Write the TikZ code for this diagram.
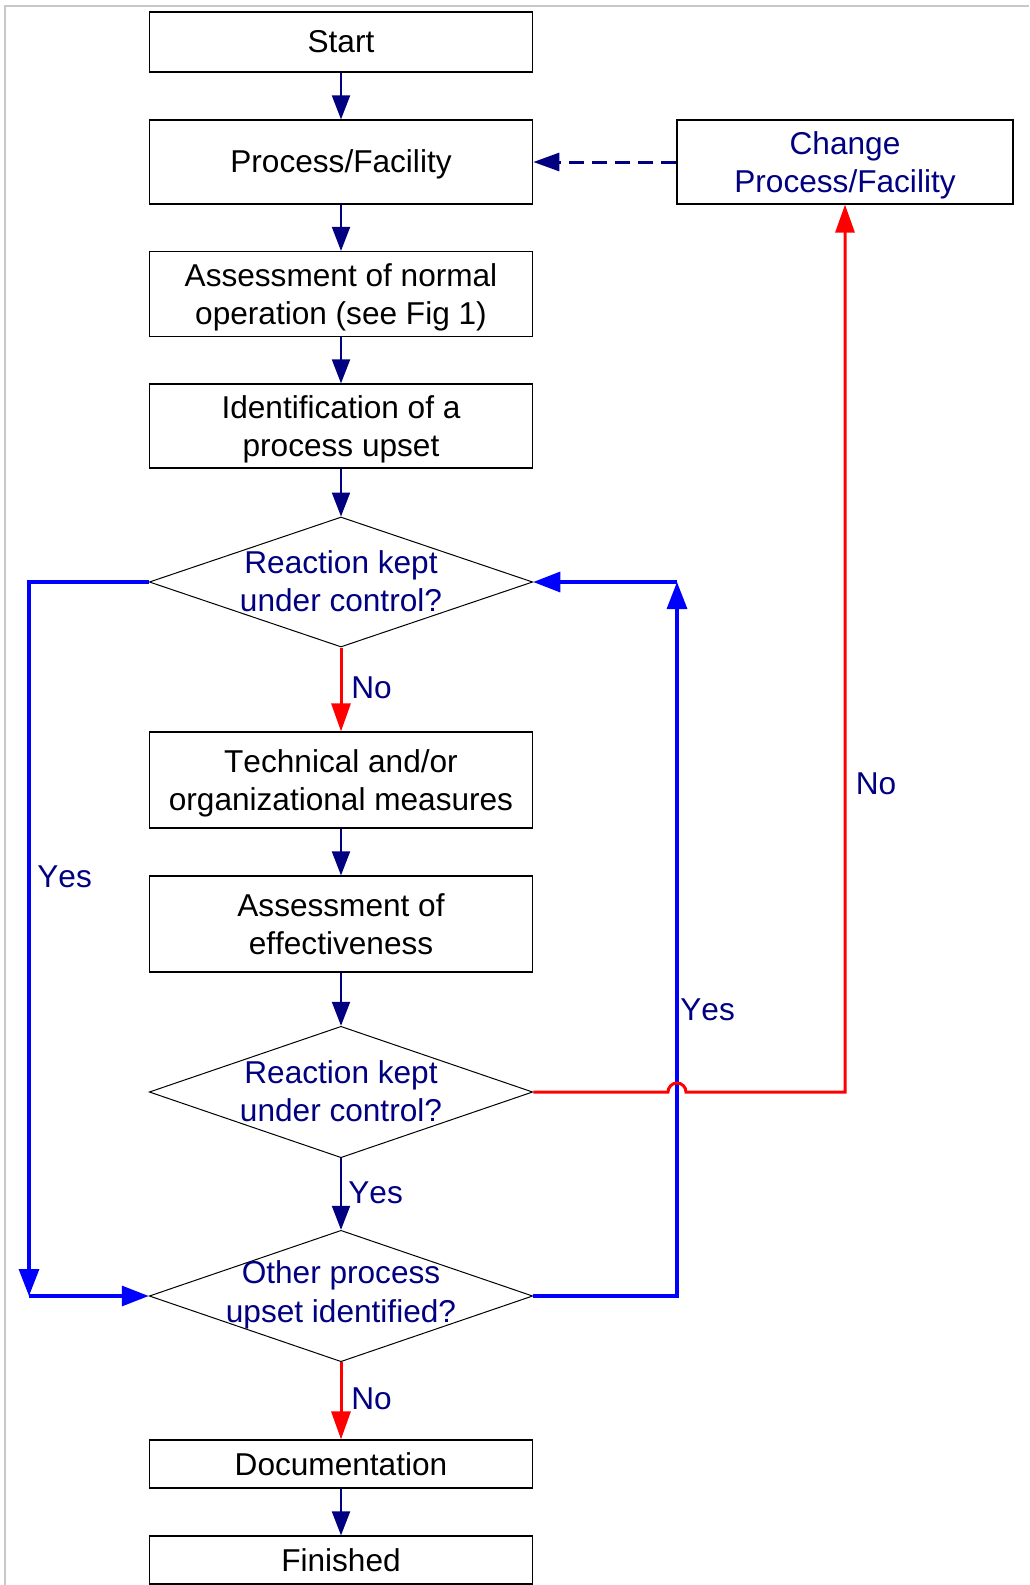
\documentclass[tikz,border=0pt]{standalone}
\usepackage{fontspec}
\setmainfont[Kerning=Off]{Liberation Sans}
\usetikzlibrary{arrows.meta,shapes.geometric,calc}
\definecolor{navy}{RGB}{0,0,128}
\definecolor{loopblue}{RGB}{0,0,255}
\definecolor{nored}{RGB}{255,0,0}
\definecolor{frame}{RGB}{200,200,200}
% strut that lowers a two-line box text a little
\newcommand\firststrut{\rule{0pt}{14.8pt}}
\begin{document}
\begin{tikzpicture}[x=0.5pt,y=-0.5pt,
  font=\fontsize{15.8pt}{19.2pt}\selectfont,
  stepbox/.style={draw=black,line width=0.6pt,minimum width=191.75pt,inner sep=0pt,align=center,text=black},
  decision/.style={draw=black,line width=0.5pt,diamond,minimum width=191.75pt,inner sep=0pt},
  dtext/.style={align=center,text=navy,inner sep=0pt},
  lbl/.style={text=navy,inner sep=0pt},
  flow/.style={draw=navy,line width=1pt,-{Triangle[length=12pt,width=9pt]}},
  yesloop/.style={draw=loopblue,line width=1.6pt},
  yesarrow/.style={yesloop,-{Triangle[length=13.5pt,width=10pt]}},
  noarrow/.style={draw=nored,line width=1.5pt,-{Triangle[length=14pt,width=9.5pt]}},
  ]
  \useasboundingbox (0,0) rectangle (1029,1585);
  % page frame
  \draw[frame,line width=1pt] (4,6) -- (1029,6);
  \draw[frame,line width=1pt] (5,6) -- (5,1585);

  % main column
  \node[stepbox,minimum height=30pt]   (start) at (341,42)   {Start};
  \node[stepbox,minimum height=42pt]   (proc)  at (341,162)  {\rule{0pt}{13.5pt}Process/Facility};
  \node[stepbox,minimum height=42.5pt] (norm)  at (341,294)  {\firststrut Assessment of normal\\operation (see Fig 1)};
  \node[stepbox,minimum height=42pt]   (ident) at (341,426)  {\firststrut Identification of a\\process upset};
  \node[decision,minimum height=65pt]  (d1)    at (341,582)  {};
  \node[dtext] (d1t) at (341,581) {Reaction kept\\under control?};
  \node[stepbox,minimum height=48pt]   (tech)  at (341,780)  {\firststrut Technical and/or\\organizational measures};
  \node[stepbox,minimum height=48pt]   (eff)   at (341,924)  {Assessment of\\effectiveness};
  \node[decision,minimum height=65.7pt] (d2)   at (341,1092) {};
  \node[dtext] (d2t) at (341,1091) {Reaction kept\\under control?};
  \node[decision,minimum height=65.7pt] (d3)   at (341,1296) {};
  \node[dtext] (d3t) at (341,1295) {Other process\\upset identified?};
  \node[stepbox,minimum height=24pt]   (doc)   at (341,1464) {Documentation};
  \node[stepbox,minimum height=24pt]   (fin)   at (341,1560) {Finished};

  % side box
  \node[stepbox,minimum width=168pt,minimum height=42pt,text=navy] (chg) at (845,162) {\rule{0pt}{15pt}Change\\Process/Facility};

  % corner points of the loops
  \coordinate (lc) at (29,1296);
  \coordinate (rc) at (677,582);
  \coordinate (nc) at (845,1092);

  % straight flow
  \draw[flow] (start) -- (proc);
  \draw[flow] (proc) -- (norm);
  \draw[flow] (norm) -- (ident);
  \draw[flow] (ident) -- (d1.north);
  \draw[flow] (tech) -- (eff);
  \draw[flow] (eff) -- (d2.north);
  \draw[flow] (d2.south) -- (d3.north);
  \draw[flow] (doc) -- (fin);
  \draw[noarrow] (d1.south) -- (tech);
  \draw[noarrow] (d3.south) -- (doc);

  % change loop back to the process
  \draw[draw=navy,line width=1.5pt,dash pattern=on 7.5pt off 4pt,-{Triangle[length=13pt,width=9pt]}]
    (chg.west) -- (proc.east);

  % "Yes" loops
  \draw[yesarrow] (d1.west) -| (lc);
  \draw[yesarrow] (lc) -- (d3.west);
  \draw[yesarrow] (d3.east) -| (rc);
  \draw[yesarrow] (rc) -- (d1.east);

  % "No" path with a jump over the loop line
  \draw[noarrow] (d2.east) -- ($(d2.east -| rc)+(-9,0)$)
    arc[start angle=180,end angle=0,radius=4.5pt] -- (nc) -- (chg.south);

  % labels
  \node[lbl,anchor=west] (l1) at (351,688)  {No};
  \node[lbl,anchor=west] (l2) at (37,877)   {Yes};
  \node[lbl] (l3) at (876,784)  {No};
  \node[lbl,anchor=west] (l4) at (680,1010) {Yes};
  \node[lbl,anchor=west] (l5) at (348,1193) {Yes};
  \node[lbl,anchor=west] (l6) at (351,1399) {No};
\end{tikzpicture}
\end{document}
